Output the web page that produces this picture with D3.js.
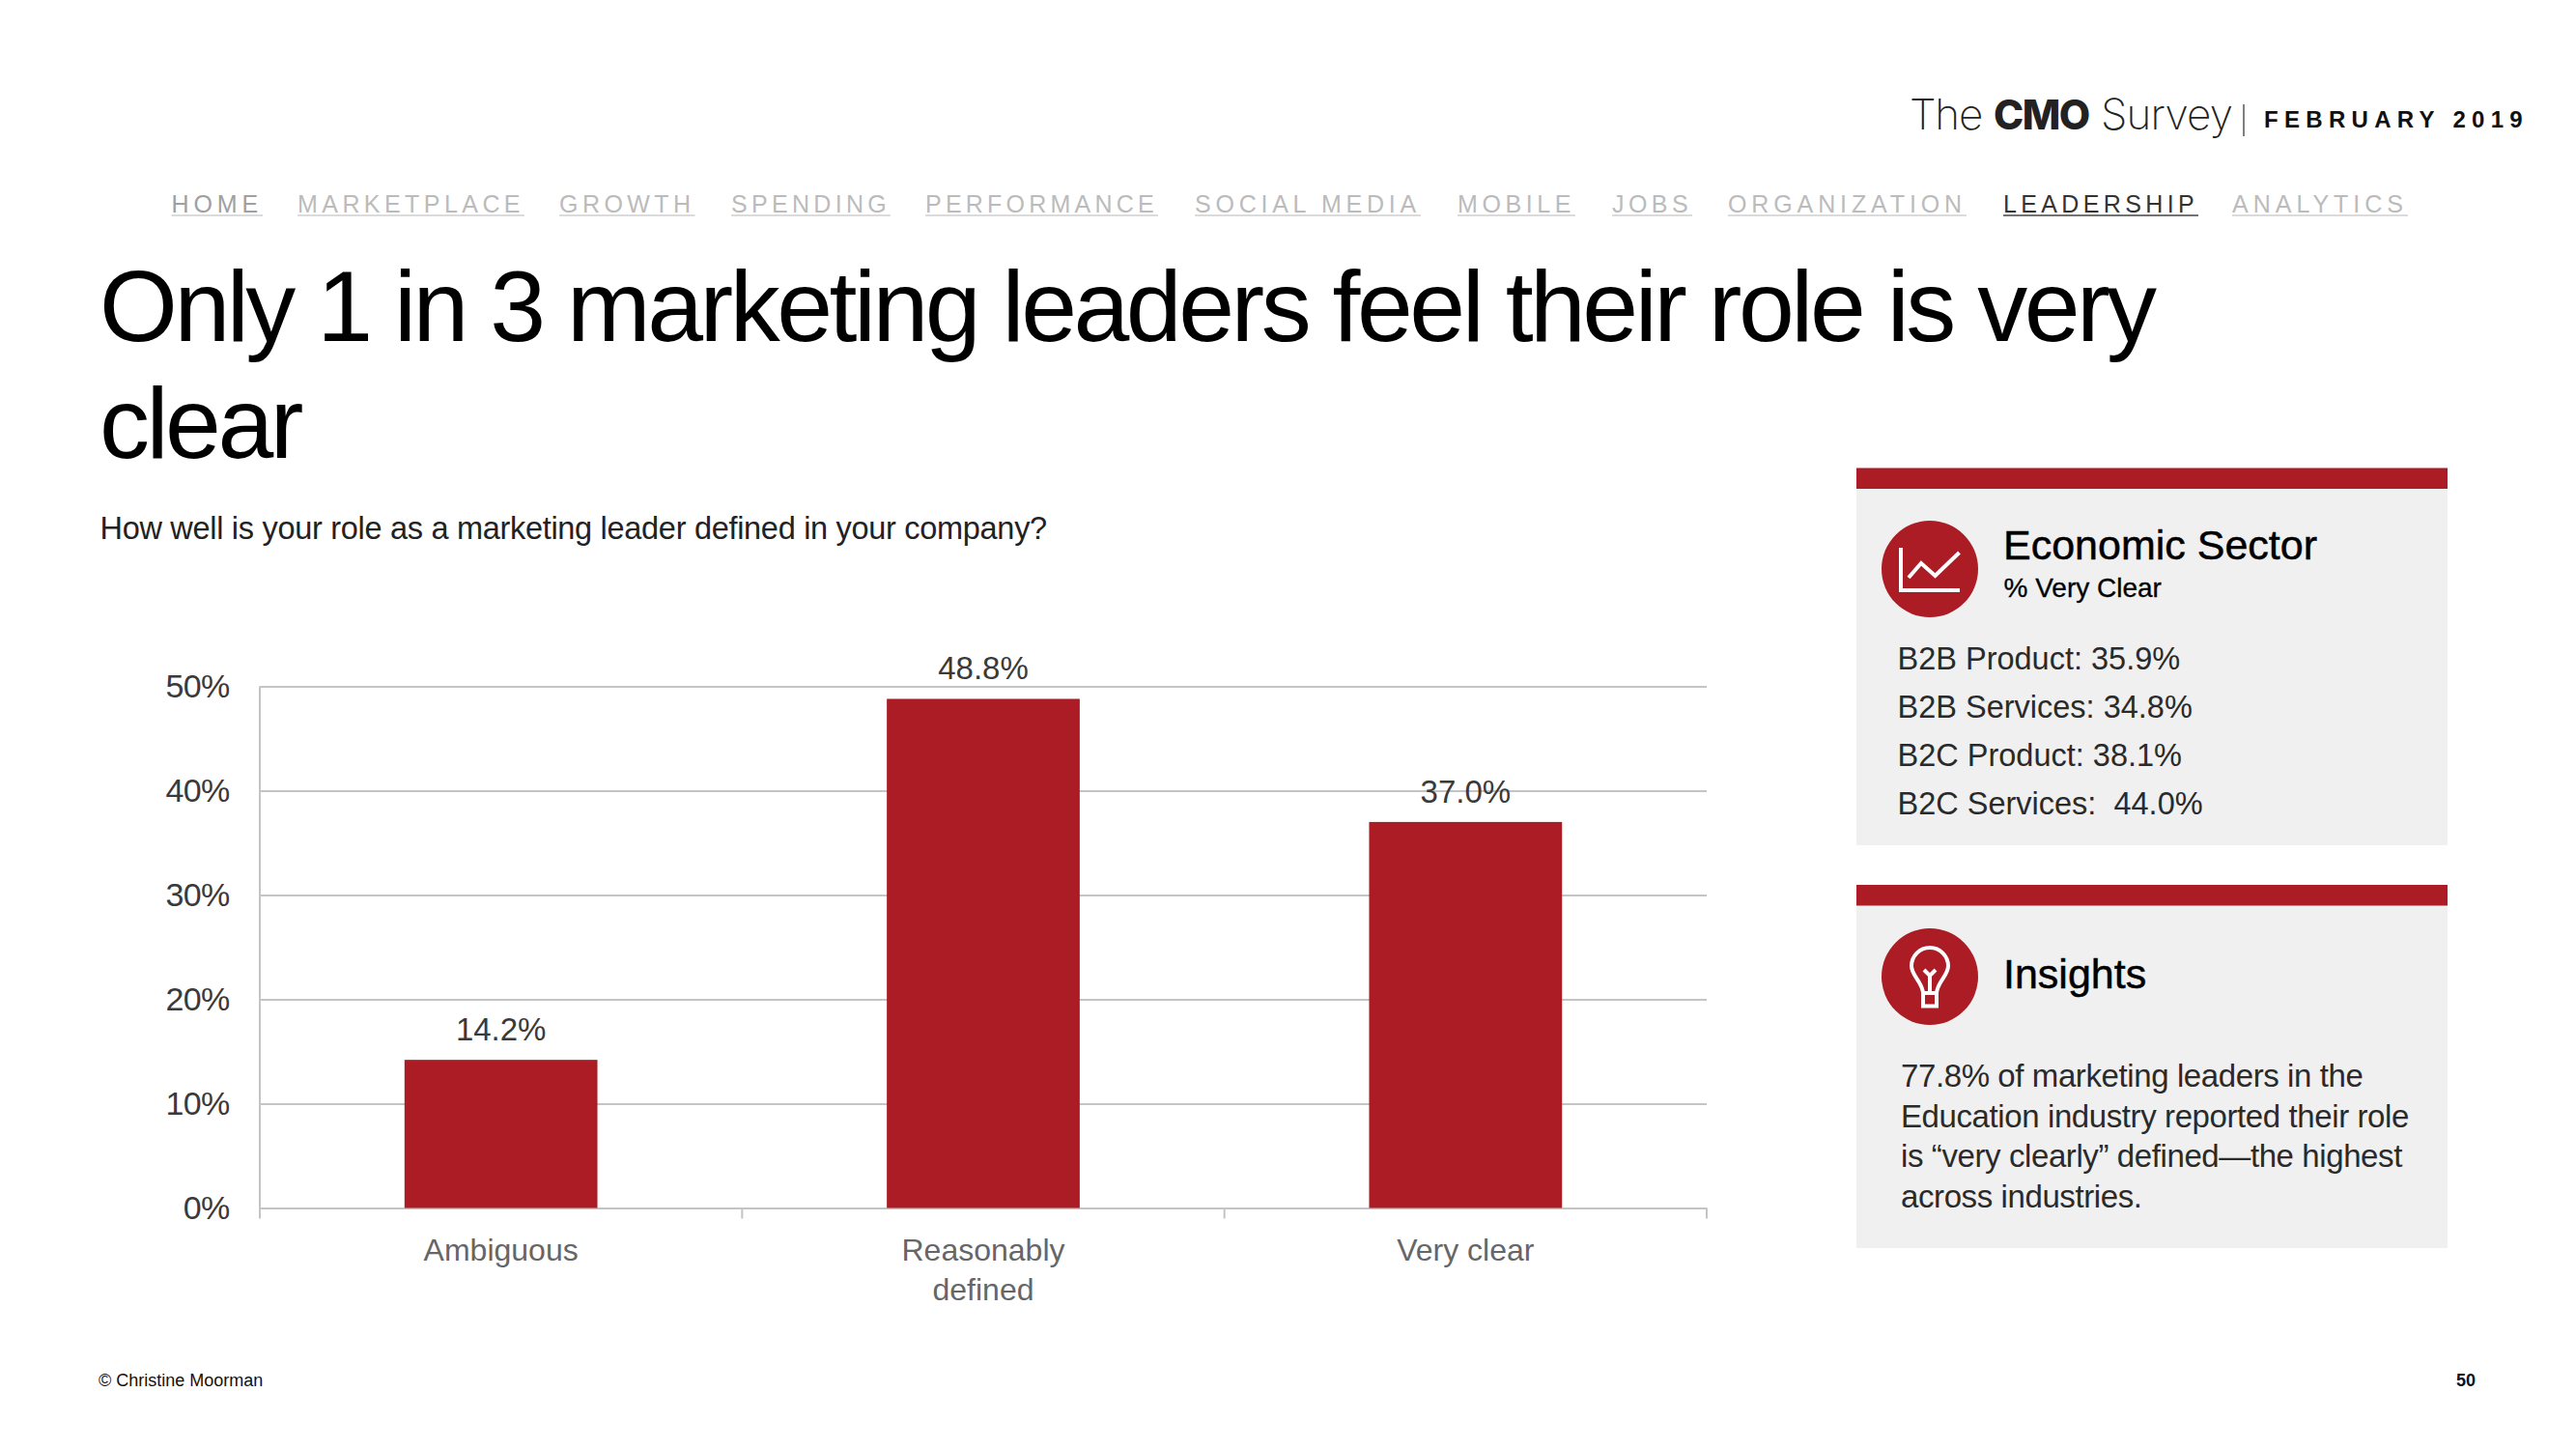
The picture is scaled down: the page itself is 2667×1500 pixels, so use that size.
<!DOCTYPE html>
<html>
<head>
<meta charset="utf-8">
<script src="https://cdn.jsdelivr.net/npm/d3@7"></script>
<style>
  html, body { margin: 0; padding: 0; background: #fff; }
  text { font-family: "Liberation Sans", Arial, sans-serif; }
</style>
</head>
<body>
<div id="slide"></div>
<script>
// chart data
var categories = ["Ambiguous", "Reasonably\ndefined", "Very clear"];
var values = [14.2, 48.8, 37.0];
var yTicks = [0, 10, 20, 30, 40, 50];

// slide text
var navItems = ["HOME", "MARKETPLACE", "GROWTH", "SPENDING", "PERFORMANCE", "SOCIAL MEDIA",
  "MOBILE", "JOBS", "ORGANIZATION", "LEADERSHIP", "ANALYTICS"];
var titleLines = ["Only 1 in 3 marketing leaders feel their role is very", "clear"];
var question = "How well is your role as a marketing leader defined in your company?";
var sectorLines = ["B2B Product: 35.9%", "B2B Services: 34.8%", "B2C Product: 38.1%", "B2C Services:  44.0%"];
var insightLines = ["77.8% of marketing leaders in the", "Education industry reported their role",
  "is \u201cvery clearly\u201d defined\u2014the highest", "across industries."];

// nav layout, left and right edge of each item
var navStarts = [177.5, 308, 579, 757, 958, 1237, 1509, 1669, 1789, 2074, 2311];
var navEnds = [272, 543, 719.5, 922, 1199, 1471, 1631, 1752, 2036, 2276, 2493];

var red = "#ab1c25";
var panelGrey = "#f0f0f0";
var gridGrey = "#c4c4c4";

var svg = d3.select("#slide").append("svg")
  .attr("width", 2667)
  .attr("height", 1500)
  .style("display", "block");

// ---- logo line
function logoWord(word, xPos, size, weight, spacing) {
  svg.append("text")
    .attr("x", xPos).attr("y", 134)
    .style("font-family", "Inter")
    .style("font-size", size + "px")
    .style("font-weight", weight)
    .style("letter-spacing", spacing + "px")
    .attr("fill", "#222")
    .text(word);
}
logoWord("The", 1977, 44, 200, -1.2);
logoWord("CMO", 2064, 42, 800, -1.6);
logoWord("Survey", 2175, 44, 200, -0.8);

svg.append("line")
  .attr("x1", 2323).attr("x2", 2323)
  .attr("y1", 108).attr("y2", 141)
  .attr("stroke", "#555").attr("stroke-width", 1.5);

svg.append("text")
  .attr("x", 2344).attr("y", 132)
  .style("font-size", "24px")
  .style("font-weight", 700)
  .style("letter-spacing", "6.3px")
  .attr("fill", "#111")
  .text("FEBRUARY 2019");

// ---- nav, letter spacing is worked out to fill each item's width
navItems.forEach(function(name, i) {
  var isActive = name === "LEADERSHIP";
  var colour = isActive ? "#333" : (name === "HOME" ? "#a0a0a0" : "#bbb");
  var t = svg.append("text")
    .attr("x", navStarts[i]).attr("y", 220)
    .style("font-size", "25px")
    .attr("fill", colour)
    .text(name);
  var target = navEnds[i] - navStarts[i];
  var spacing = (target - t.node().getComputedTextLength()) / name.length;
  t.style("letter-spacing", spacing + "px");
  svg.append("line")
    .attr("x1", navStarts[i]).attr("x2", navEnds[i])
    .attr("y1", 223).attr("y2", 223)
    .attr("stroke", isActive ? "#444" : "#cfcfcf")
    .attr("stroke-width", 1.5);
});

// ---- title
svg.selectAll(".title").data(titleLines).enter().append("text")
  .attr("class", "title")
  .attr("x", 103)
  .attr("y", function(d, i) { return 353 + i * 121; })
  .style("font-size", "104px")
  .style("letter-spacing", "-3.5px")
  .attr("fill", "#000")
  .text(function(d) { return d; });

svg.append("text")
  .attr("x", 103.5).attr("y", 558)
  .style("font-size", "32.5px")
  .style("letter-spacing", "-0.3px")
  .attr("fill", "#222")
  .text(question);

// ---- bar chart
var chartLeft = 269, chartRight = 1767, chartTop = 710.5, chartBottom = 1250.5;

var x = d3.scaleBand()
  .domain(categories)
  .range([chartLeft, chartRight])
  .paddingInner(0.6)
  .paddingOuter(0.3);

var y = d3.scaleLinear()
  .domain([0, 50])
  .range([chartBottom, chartTop]);

var yAxis = svg.append("g")
  .attr("transform", "translate(" + chartLeft + ",0)")
  .call(d3.axisLeft(y)
    .tickValues(yTicks)
    .tickSize(10.5)
    .tickPadding(21)
    .tickFormat(function(d) { return d + "%"; }));

yAxis.select(".domain").remove();
yAxis.selectAll(".tick line")
  .attr("x2", chartRight - chartLeft)
  .attr("stroke", gridGrey)
  .attr("stroke-width", 2);
yAxis.selectAll(".tick text")
  .style("font-size", "34px")
  .style("letter-spacing", "-0.7px")
  .style("font-family", "Liberation Sans")
  .attr("fill", "#3a3a3a");

// axis line runs on below the baseline as the first tick
svg.append("line")
  .attr("x1", chartLeft).attr("x2", chartLeft)
  .attr("y1", chartTop).attr("y2", chartBottom + 11)
  .attr("stroke", gridGrey).attr("stroke-width", 2);

// ticks sit between the bands, not under the bars
svg.selectAll(".xsep").data(d3.range(1, categories.length + 1)).enter().append("line")
  .attr("class", "xsep")
  .attr("x1", function(i) { return chartLeft + i * x.step(); })
  .attr("x2", function(i) { return chartLeft + i * x.step(); })
  .attr("y1", chartBottom)
  .attr("y2", chartBottom + 11)
  .attr("stroke", gridGrey)
  .attr("stroke-width", 2);

var xAxis = svg.append("g")
  .attr("transform", "translate(0," + chartBottom + ")")
  .call(d3.axisBottom(x).tickSize(0));
xAxis.select(".domain").remove();
xAxis.selectAll(".tick text").each(function(d) {
  var label = d3.select(this).text("");
  label.attr("y", null).attr("dy", null)
    .style("font-size", "32px")
    .style("font-family", "Liberation Sans")
    .attr("fill", "#666");
  d.split("\n").forEach(function(part, i) {
    label.append("tspan")
      .attr("x", 0)
      .attr("y", 54.5 + i * 41)
      .text(part);
  });
});

svg.selectAll(".bar").data(categories).enter().append("rect")
  .attr("class", "bar")
  .attr("x", function(d) { return x(d); })
  .attr("y", function(d, i) { return y(values[i]); })
  .attr("width", x.bandwidth())
  .attr("height", function(d, i) { return chartBottom - y(values[i]); })
  .attr("fill", red);

svg.selectAll(".barlabel").data(categories).enter().append("text")
  .attr("class", "barlabel")
  .attr("x", function(d) { return x(d) + x.bandwidth() / 2; })
  .attr("y", function(d, i) { return y(values[i]) - 20; })
  .attr("text-anchor", "middle")
  .style("font-size", "33px")
  .attr("fill", "#3a3a3a")
  .text(function(d, i) { return values[i].toFixed(1) + "%"; });

// ---- side panels
function panel(top, bandBottom, bottom, circleY) {
  svg.append("rect").attr("x", 1922).attr("y", top).attr("width", 612).attr("height", bottom - top).attr("fill", panelGrey);
  svg.append("rect").attr("x", 1922).attr("y", top).attr("width", 612).attr("height", bandBottom - top).attr("fill", red);
  svg.append("circle").attr("cx", 1998).attr("cy", circleY).attr("r", 50).attr("fill", red);
}

panel(484.5, 506, 875, 589);
panel(916, 937.5, 1292, 1011);

// line chart icon
var iconLine = d3.line();
var iconStyle = function(sel) {
  return sel.attr("fill", "none").attr("stroke", "#fff").attr("stroke-width", 4);
};
svg.append("path")
  .attr("d", iconLine([[1968, 567], [1968, 611], [2029, 611]]))
  .call(iconStyle);
svg.append("path")
  .attr("d", iconLine([[1976, 598], [1989, 583], [2003.5, 596], [2028.5, 572]]))
  .call(iconStyle);

// light bulb icon
svg.append("path")
  .attr("d", "M1991,1028 C1990,1016 1979,1010 1979,1000 A19,19 0 0 1 2017,1000 C2017,1010 2006,1016 2005,1028 Z")
  .call(iconStyle);
svg.append("path")
  .attr("d", "M1998,1028 L1998,1009 M1992,1004 L1998,1010 L2004,1004")
  .call(iconStyle);
svg.append("rect")
  .attr("x", 1991).attr("y", 1028).attr("width", 14).attr("height", 13.5)
  .call(iconStyle);

// headings read heavier in the original, a hairline stroke gets close
svg.append("text").attr("x", 2074).attr("y", 579)
  .style("font-size", "43px").attr("fill", "#000")
  .attr("stroke", "#000").attr("stroke-width", 0.5).text("Economic Sector");
svg.append("text").attr("x", 2074.5).attr("y", 618)
  .style("font-size", "28px").attr("fill", "#000")
  .attr("stroke", "#000").attr("stroke-width", 0.3).text("% Very Clear");

svg.selectAll(".sector").data(sectorLines).enter().append("text")
  .attr("class", "sector")
  .attr("x", 1964.5)
  .attr("y", function(d, i) { return 692.5 + i * 50; })
  .style("white-space", "pre")
  .style("font-size", "32.5px")
  .attr("fill", "#2a2a2a")
  .text(function(d) { return d; });

svg.append("text").attr("x", 2074).attr("y", 1023)
  .style("font-size", "43px").attr("fill", "#000")
  .attr("stroke", "#000").attr("stroke-width", 0.5).text("Insights");

svg.selectAll(".insight").data(insightLines).enter().append("text")
  .attr("class", "insight")
  .attr("x", 1968)
  .attr("y", function(d, i) { return 1125 + i * 41.7; })
  .style("font-size", "33px")
  .style("letter-spacing", "-0.4px")
  .attr("fill", "#2a2a2a")
  .text(function(d) { return d; });

// ---- footer
svg.append("text").attr("x", 102).attr("y", 1435)
  .style("font-size", "18px").attr("fill", "#111").text("\u00a9 Christine Moorman");
svg.append("text").attr("x", 2563).attr("y", 1435)
  .attr("text-anchor", "end")
  .style("font-size", "18px").style("font-weight", 700).attr("fill", "#111").text("50");
</script>
</body>
</html>
